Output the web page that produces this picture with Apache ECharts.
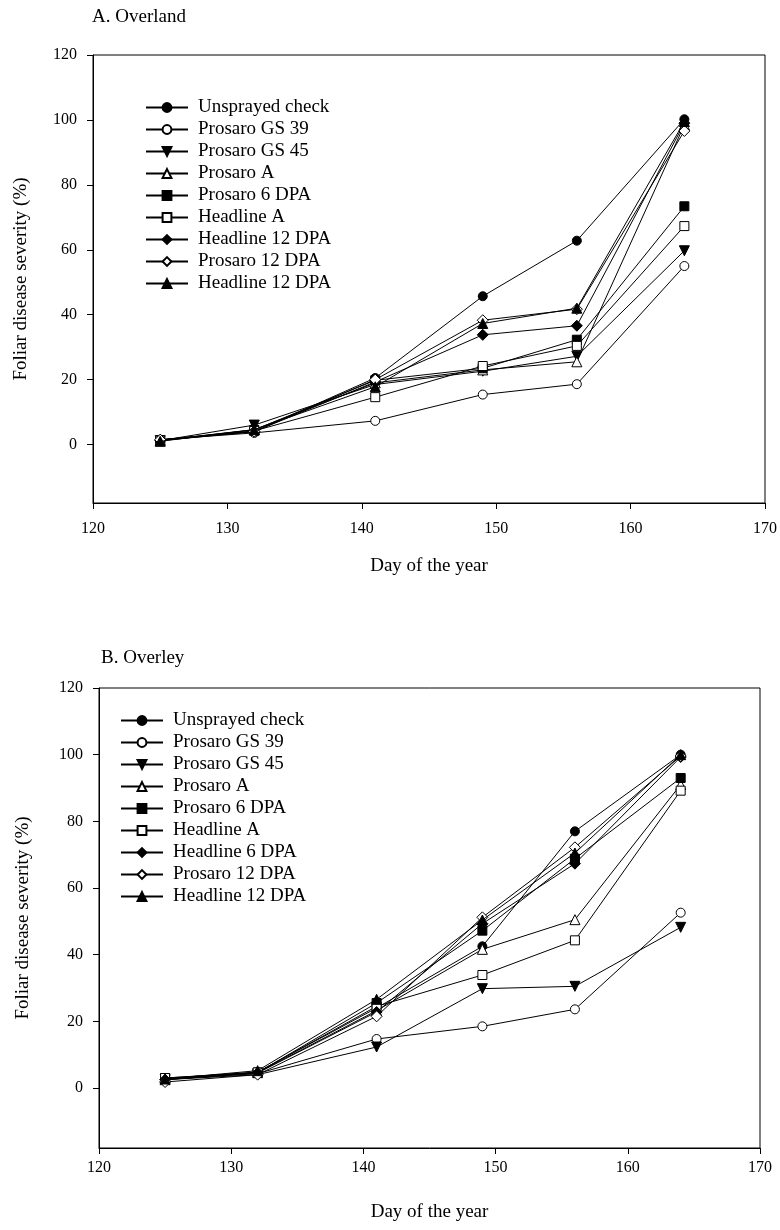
<!DOCTYPE html>
<html>
<head>
<meta charset="utf-8">
<script src="https://cdn.jsdelivr.net/npm/echarts@6/dist/echarts.min.js"></script>
<style>
html,body{margin:0;padding:0;background:#fff;}
#chart{width:780px;height:1230px;}
</style>
</head>
<body>
<div id="chart"></div>
<script>
// ---------- data ----------
const days = [125, 132, 141, 149, 156, 164];
const yTicks = [0, 20, 40, 60, 80, 100, 120];
const xTicks = [120, 130, 140, 150, 160, 170];

const titleA = 'A. Overland';
const titleB = 'B. Overley';
const xName = 'Day of the year';
const yName = 'Foliar disease severity (%)';

const namesA = ['Unsprayed check', 'Prosaro GS 39', 'Prosaro GS 45', 'Prosaro A', 'Prosaro 6 DPA',
  'Headline A', 'Headline 12 DPA', 'Prosaro 12 DPA', 'Headline 12 DPA'];
const namesB = ['Unsprayed check', 'Prosaro GS 39', 'Prosaro GS 45', 'Prosaro A', 'Prosaro 6 DPA',
  'Headline A', 'Headline 6 DPA', 'Prosaro 12 DPA', 'Headline 12 DPA'];

// Panel A (Overland)
const a_unsprayed = [1.5, 4.0, 20.5, 45.7, 62.8, 100.2];
const a_gs39      = [1.5, 3.6, 7.3, 15.4, 18.6, 55.0];
const a_gs45      = [1.2, 6.0, 18.5, 22.6, 27.2, 59.7];
const a_prosaroA  = [1.3, 4.6, 19.0, 23.0, 25.5, 98.5];
const a_prosaro6  = [1.3, 4.5, 19.8, 23.5, 32.3, 73.4];
const a_headlineA = [1.2, 4.2, 14.6, 24.2, 30.4, 67.3];
const a_head12d   = [1.2, 4.0, 19.3, 33.8, 36.6, 99.0];
const a_pros12    = [1.5, 4.0, 20.0, 38.3, 41.7, 96.6];
const a_head12t   = [1.0, 4.6, 17.8, 37.3, 42.0, 99.5];

// Panel B (Overley)
const b_unsprayed = [2.8, 4.8, 24.0, 42.5, 77.0, 100.0];
const b_gs39      = [2.6, 4.3, 14.7, 18.5, 23.6, 52.6];
const b_gs45      = [2.5, 4.0, 12.3, 29.8, 30.5, 48.2];
const b_prosaroA  = [2.5, 4.6, 23.2, 41.6, 50.5, 91.0];
const b_prosaro6  = [3.0, 4.6, 25.5, 47.2, 68.8, 93.0];
const b_headlineA = [3.0, 4.7, 24.5, 33.9, 44.3, 89.2];
const b_head6     = [2.5, 4.5, 22.8, 49.3, 67.3, 99.3];
const b_pros12    = [1.8, 4.0, 21.5, 51.2, 72.2, 99.6];
const b_head12    = [2.7, 5.2, 26.6, 50.4, 70.5, 100.0];

const valuesA = [a_unsprayed, a_gs39, a_gs45, a_prosaroA, a_prosaro6, a_headlineA, a_head12d, a_pros12, a_head12t];
const valuesB = [b_unsprayed, b_gs39, b_gs45, b_prosaroA, b_prosaro6, b_headlineA, b_head6, b_pros12, b_head12];

// ---------- styles ----------
const markers = [
  {symbol: 'circle', fill: '#000', rot: 0},
  {symbol: 'circle', fill: '#fff', rot: 0},
  {symbol: 'triangle', fill: '#000', rot: 180},
  {symbol: 'triangle', fill: '#fff', rot: 0},
  {symbol: 'rect', fill: '#000', rot: 0},
  {symbol: 'rect', fill: '#fff', rot: 0},
  {symbol: 'diamond', fill: '#000', rot: 0},
  {symbol: 'diamond', fill: '#fff', rot: 0},
  {symbol: 'triangle', fill: '#000', rot: 0}
];
const FONT = '"Liberation Serif", "Times New Roman", serif';

function makeSeries(names, values, gi, tag) {
  return names.map((n, i) => {
    const m = markers[i];
    return {
      name: n + '#' + tag + i,
      type: 'line',
      xAxisIndex: gi,
      yAxisIndex: gi,
      data: days.map((d, k) => [d, values[i][k]]),
      symbol: m.symbol,
      symbolRotate: m.rot,
      symbolSize: m.symbol === 'rect' ? 9 : (m.symbol === 'diamond' ? 11 : (m.symbol === 'triangle' ? 10 : 9)),
      showAllSymbol: true,
      lineStyle: {color: '#000', width: 1},
      itemStyle: {color: m.fill, borderColor: '#000', borderWidth: 1},
      emphasis: {disabled: true},
      animation: false,
      z: 2 + i
    };
  });
}

function xAx(gi, margin, gap) {
  return {
    gridIndex: gi, type: 'value', min: 120, max: 170, interval: 10,
    name: xName, nameLocation: 'middle', nameGap: gap,
    nameTextStyle: {fontFamily: FONT, fontSize: 19, color: '#000'},
    axisLine: {show: true, onZero: false, lineStyle: {color: '#000', width: 1}},
    axisTick: {show: true, inside: false, length: 6, lineStyle: {color: '#000', width: 1}},
    axisLabel: {fontFamily: FONT, fontSize: 16, color: '#000', margin: margin},
    splitLine: {show: false}
  };
}
function yAx(gi, gap) {
  return {
    gridIndex: gi, type: 'value', min: -18, max: 120,
    name: yName, nameLocation: 'middle', nameGap: gap, nameRotate: 90,
    nameTextStyle: {fontFamily: FONT, fontSize: 19, color: '#000'},
    axisLine: {show: true, onZero: false, lineStyle: {color: '#000', width: 1}},
    axisTick: {show: true, inside: false, length: 6, customValues: yTicks, lineStyle: {color: '#000', width: 1}},
    axisLabel: {fontFamily: FONT, fontSize: 16, color: '#000', margin: 16, customValues: yTicks},
    splitLine: {show: false}
  };
}
function legend(names, tag, left, top) {
  return {
    data: names.map((n, i) => n + '#' + tag + i),
    orient: 'vertical', left: left, top: top,
    itemWidth: 42, itemHeight: 11, itemGap: 3,
    formatter: (name) => name.split('#')[0],
    textStyle: {fontFamily: FONT, fontSize: 19, color: '#000', lineHeight: 19, padding: [0, 0, 0, 5]},
    selectedMode: false
  };
}

const chart = echarts.init(document.getElementById('chart'), null, {renderer: 'canvas'});
chart.setOption({
  backgroundColor: '#fff',
  animation: false,
  title: [
    {text: titleA, left: 87, top: 3, textStyle: {fontFamily: FONT, fontSize: 19, fontWeight: 'normal', color: '#000'}},
    {text: titleB, left: 96, top: 644, textStyle: {fontFamily: FONT, fontSize: 19, fontWeight: 'normal', color: '#000'}}
  ],
  grid: [
    {left: 93, top: 55, width: 673, height: 448, show: true, borderColor: '#000', borderWidth: 1, backgroundColor: 'transparent'},
    {left: 99, top: 688, width: 661, height: 460, show: true, borderColor: '#000', borderWidth: 1, backgroundColor: 'transparent'}
  ],
  xAxis: [xAx(0, 18, 54), xAx(1, 12, 55)],
  yAxis: [yAx(0, 62), yAx(1, 66)],
  legend: [legend(namesA, 'a', 140, 93), legend(namesB, 'b', 115, 706)],
  series: makeSeries(namesA, valuesA, 0, 'a').concat(makeSeries(namesB, valuesB, 1, 'b'))
});
</script>
</body>
</html>
